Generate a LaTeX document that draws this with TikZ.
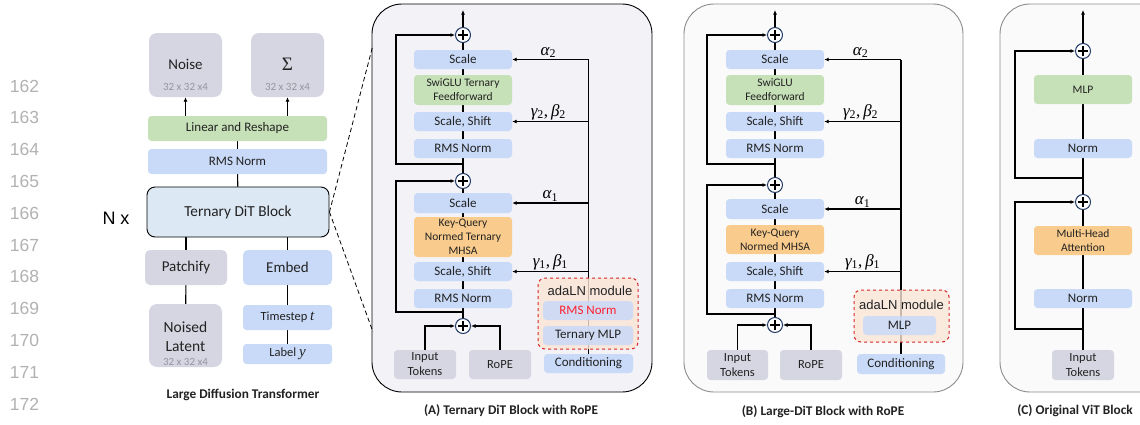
\documentclass[tikz,border=0pt]{standalone}
\usepackage{fontspec}
\setmainfont{Carlito}
\newfontfamily\arialfam{Liberation Sans}
\newfontfamily\mserif{Liberation Serif}
\usetikzlibrary{arrows.meta}

\definecolor{cblue}{RGB}{201,218,248}
\definecolor{cgreen}{RGB}{198,224,183}
\definecolor{corange}{RGB}{249,203,140}
\definecolor{cgrey}{RGB}{214,214,226}
\definecolor{cdit}{RGB}{221,232,245}
\definecolor{ctext}{RGB}{34,34,34}
\definecolor{cdim}{RGB}{150,150,160}
\definecolor{cnum}{RGB}{178,178,178}
\definecolor{cnavy}{RGB}{31,56,100}
\definecolor{cpanelA}{RGB}{242,242,247}
\definecolor{cpanelB}{RGB}{250,250,250}
\definecolor{cpanelline}{RGB}{140,140,140}
\definecolor{cadafill}{RGB}{251,229,214}
\definecolor{cadaline}{RGB}{214,40,40}
\definecolor{cred}{RGB}{255,32,48}

\pgfdeclarelayer{panel}
\pgfdeclarelayer{lines}
\pgfsetlayers{panel,lines,main}

% box from corner (x1,y1) to corner (x2,y2), y measured downwards
\newcommand\mybox[7]{\node[#1, minimum width={#5-#3}, minimum height={#6-#4}] (#2) at ({(#3+#5)/2},{(#4+#6)/2}) {#7};}
% italic serif symbol with an upright subscript
\newcommand\gsym[2]{{\itshape #1}\textsubscript{#2}}
\newcommand\ivar[1]{{\mserif\itshape #1}}

\begin{document}
\begin{tikzpicture}[x=1pt,y=-1pt,
  bx/.style={rounded corners=3.5pt, inner sep=1pt, align=center, text=ctext, font=\fontsize{13}{15}\selectfont},
  blu/.style={bx, fill=cblue},
  grn/.style={bx, fill=cgreen},
  org/.style={bx, fill=corange},
  gry/.style={bx, fill=cgrey},
  two/.style={font=\fontsize{11.5}{14}\selectfont},
  big/.style={font=\fontsize{15}{19}\selectfont},
  pc/.style={circle, draw=cnavy, fill=white, line width=1pt, minimum size=15pt, inner sep=0pt,
    path picture={\draw[black, line width=1.2pt]
      (path picture bounding box.center) ++(-5pt,0pt) -- ++(10pt,0pt)
      (path picture bounding box.center) ++(0pt,-5pt) -- ++(0pt,10pt);}},
  arr/.style={-{Latex[length=4.5pt,width=4pt]}},
  ln/.style={line width=1.1pt, draw=black},
  mth/.style={font=\mserif\fontsize{17}{18}\selectfont, inner sep=1pt, text=black},
  captxt/.style={font=\bfseries\fontsize{13.3}{15}\selectfont, text=ctext},
  dimtxt/.style={font=\fontsize{11}{12}\selectfont, text=cdim, inner sep=0pt},
  lnum/.style={font=\arialfam\fontsize{17.5}{18}\selectfont, text=cnum},
  panelbox/.style={rounded corners=30pt, line width=0.9pt},
  ada/.style={rounded corners=7pt, draw=cadaline, fill=cadafill, fill opacity=0.8, dashed, line width=1pt},
  adain/.style={fill opacity=0.85, text opacity=1},
]
\useasboundingbox (0,0) rectangle (1140,424);
\begin{pgfonlayer}{panel}
  \fill[white] (0,0) rectangle (1140,424);
\end{pgfonlayer}

% ---------------- line numbers ----------------
\foreach \k [count=\i from 0] in {162,...,172}
  \node[lnum] (num\k) at (24.5,{86+31.8*\i}) {\k};

% ---------------- large diffusion transformer ----------------
\node[font=\arialfam\fontsize{18}{20}\selectfont] (nx) at (116,218) {N x};

\mybox{gry, rounded corners=8pt}{noise}{149}{33}{222}{97}{}
\node[big, text=ctext] (noiseT) at (185.5,64) {Noise};
\node[dimtxt] (noiseS) at (185.5,87) {32 x 32 x4};
\mybox{gry, rounded corners=8pt}{sigma}{251}{33}{324}{97}{}
\node[font=\mserif\fontsize{19}{20}\selectfont, text=ctext] (sigmaT) at (287.5,64) {Σ};
\node[dimtxt] (sigmaS) at (287.5,87) {32 x 32 x4};

\mybox{grn}{lin}{148}{116}{327}{141}{Linear and Reshape}
\mybox{blu}{rmsL}{148}{149}{327}{174}{RMS Norm}
\mybox{bx, fill=cdit, draw=black, line width=0.9pt, rounded corners=8pt, font=\fontsize{15.3}{17}\selectfont}{dit}{147}{187}{329}{237}{Ternary DiT Block}
\mybox{gry, big, rounded corners=5pt}{patch}{145}{250}{227}{285}{Patchify}
\mybox{blu, big, rounded corners=5pt}{embed}{243}{250}{332}{285}{Embed}
\mybox{gry, rounded corners=8pt}{nl}{149}{304}{222}{367}{}
\node[big, text=ctext, align=center, font=\fontsize{15.5}{19}\selectfont] (nlT) at (185.5,336.5) {Noised\\Latent};
\node[dimtxt] (nlS) at (185.5,362) {32 x 32 x4};
\mybox{blu, font=\fontsize{12.5}{14}\selectfont}{ts}{243}{305}{332}{330}{Timestep {\fontsize{15}{15}\selectfont\ivar{t}}}
\mybox{blu, font=\fontsize{12.5}{14}\selectfont}{lab}{243}{344}{332}{364}{Label {\fontsize{15}{15}\selectfont\ivar{y}}}
\node[captxt] (capL) at (243,395) {Large Diffusion Transformer};

\begin{pgfonlayer}{lines}
  \draw[ln,arr] (noise.south |- lin.north) -- (noise.south);
  \draw[ln,arr] (sigma.south |- lin.north) -- (sigma.south);
  \draw[ln] (lin) -- (rmsL);
  \draw[ln] (rmsL) -- (dit);
  \draw[ln] (patch.north |- dit.south) -- (patch);
  \draw[ln] (embed.north |- dit.south) -- (embed);
  \draw[ln] (patch) -- (nl);
  \draw[ln] (embed) -- (ts);
  \draw[ln] (ts) -- (lab);
  \coordinate (zoomTop) at (373,45);
  \coordinate (zoomBot) at (373,332);
  \draw[line width=0.8pt, dash pattern=on 4.5pt off 3pt] (dit.east) -- (zoomTop);
  \draw[line width=0.8pt, dash pattern=on 4.5pt off 3pt] (dit.east) -- (zoomBot);
\end{pgfonlayer}

% ---------------- (A) ternary DiT block ----------------
\begin{pgfonlayer}{panel}
  \draw[panelbox, draw=black, fill=cpanelA] (372,4) rectangle (652,392);
\end{pgfonlayer}
\coordinate (A-out) at (463,10);
\node[pc] (A-p1) at (463,35) {};
\mybox{blu}{A-sc2}{414}{50}{512}{69}{Scale}
\mybox{grn, two}{A-ff}{414}{75}{512}{105}{SwiGLU Ternary\\Feedforward}
\mybox{blu}{A-ss2}{414}{112}{512}{131}{Scale, Shift}
\mybox{blu}{A-rn2}{414}{139}{512}{158}{RMS Norm}
\node[pc] (A-p2) at (463,181) {};
\mybox{blu}{A-sc1}{414}{193}{512}{213}{Scale}
\mybox{org, two}{A-att}{414}{217}{512}{257}{Key-Query\\Normed Ternary\\MHSA}
\mybox{blu}{A-ss1}{414}{262}{512}{281}{Scale, Shift}
\mybox{blu}{A-rn1}{414}{289}{512}{308}{RMS Norm}
\node[pc] (A-p3) at (463,326) {};
\mybox{gry, font=\fontsize{12.5}{15}\selectfont}{A-in}{394}{350}{456}{379}{Input\\Tokens}
\mybox{gry, font=\fontsize{12.5}{15}\selectfont}{A-rope}{469}{350}{531}{379}{RoPE}
\mybox{blu}{A-cond}{544}{354}{633}{373}{Conditioning}
\coordinate (A-r2) at (A-cond |- A-sc2);
\begin{pgfonlayer}{lines}
  \draw[ln] (A-cond) -- (A-r2);
\end{pgfonlayer}
\mybox{ada}{A-ada}{538}{278}{638}{349}{}
\node[font=\arialfam\fontsize{13}{14}\selectfont, text=ctext] (A-adaT) at (590,291) {adaLN module};
\mybox{blu, adain, text=cred}{A-adrn}{543}{301}{633}{320}{RMS Norm}
\mybox{blu, adain}{A-mlp}{543}{326}{633}{345}{Ternary MLP}
\node[captxt] (capA) at (511,411) {(A) Ternary DiT Block with RoPE};

\begin{pgfonlayer}{lines}
  \draw[ln,arr] (A-p1) -- (A-out);
  \draw[ln] (A-p3) -- (A-rn1);
  \draw[ln] (A-rn1) -- (A-ss1);
  \draw[ln] (A-ss1) -- (A-att);
  \draw[ln] (A-att) -- (A-sc1);
  \draw[ln] (A-sc1) -- (A-p2);
  \draw[ln] (A-p2) -- (A-rn2);
  \draw[ln] (A-rn2) -- (A-ss2);
  \draw[ln] (A-ss2) -- (A-ff);
  \draw[ln] (A-ff) -- (A-sc2);
  \draw[ln] (A-sc2) -- (A-p1);
  \coordinate (A-j2) at (463,164);
  \coordinate (A-j1) at (463,312);
  \draw[ln,arr] (A-j2) -- ++(-67,0) |- (A-p1);
  \draw[ln,arr] (A-j1) -- ++(-67,0) |- (A-p2);
  \draw[ln,arr] (A-in.north) |- (A-p3);
  \draw[ln,arr] (A-rope.north) |- (A-p3);
  \draw[ln,arr] (A-r2) -- node[mth, above, xshift=-2pt] {\gsym{α}{2}} (A-sc2.east);
  \draw[ln,arr] (A-r2 |- A-ss2) -- node[mth, above, xshift=-2pt] {\gsym{γ}{2},\,\gsym{β}{2}} (A-ss2.east);
  \draw[ln,arr] (A-r2 |- A-sc1) -- node[mth, above] {\gsym{α}{1}} (A-sc1.east);
  \draw[ln,arr] (A-r2 |- A-ss1) -- node[mth, above] {\gsym{γ}{1},\,\gsym{β}{1}} (A-ss1.east);
\end{pgfonlayer}

% ---------------- (B) large-DiT block ----------------
\begin{pgfonlayer}{panel}
  \draw[panelbox, draw=cpanelline, fill=cpanelB] (684,4) rectangle (963,392);
\end{pgfonlayer}
\coordinate (B-out) at (775,10);
\node[pc] (B-p1) at (775,35) {};
\mybox{blu}{B-sc2}{726}{50}{824}{69}{Scale}
\mybox{grn, two}{B-ff}{726}{75}{824}{105}{SwiGLU\\Feedforward}
\mybox{blu}{B-ss2}{726}{112}{824}{131}{Scale, Shift}
\mybox{blu}{B-rn2}{726}{139}{824}{158}{RMS Norm}
\node[pc] (B-p2) at (775,185) {};
\mybox{blu}{B-sc1}{726}{199}{824}{219}{Scale}
\mybox{org, two}{B-att}{726}{225}{824}{254}{Key-Query\\Normed MHSA}
\mybox{blu}{B-ss1}{726}{262}{824}{281}{Scale, Shift}
\mybox{blu}{B-rn1}{726}{289}{824}{308}{RMS Norm}
\node[pc] (B-p3) at (775,325) {};
\mybox{gry, font=\fontsize{12.5}{15}\selectfont}{B-in}{707}{350}{768}{380}{Input\\Tokens}
\mybox{gry, font=\fontsize{12.5}{15}\selectfont}{B-rope}{780}{350}{842}{380}{RoPE}
\mybox{blu}{B-cond}{857}{354}{945}{374}{Conditioning}
\coordinate (B-r2) at (B-cond |- B-sc2);
\begin{pgfonlayer}{lines}
  \draw[ln] (B-cond) -- (B-r2);
\end{pgfonlayer}
\mybox{ada}{B-ada}{854}{290}{949}{342}{}
\node[font=\arialfam\fontsize{13}{14}\selectfont, text=ctext] (B-adaT) at (901.5,305) {adaLN module};
\mybox{blu, adain}{B-mlp}{863}{316}{936}{335}{MLP}
\node[captxt] (capB) at (823,412) {(B) Large-DiT Block with RoPE};

\begin{pgfonlayer}{lines}
  \draw[ln,arr] (B-p1) -- (B-out);
  \draw[ln] (B-p3) -- (B-rn1);
  \draw[ln] (B-rn1) -- (B-ss1);
  \draw[ln] (B-ss1) -- (B-att);
  \draw[ln] (B-att) -- (B-sc1);
  \draw[ln] (B-sc1) -- (B-p2);
  \draw[ln] (B-p2) -- (B-rn2);
  \draw[ln] (B-rn2) -- (B-ss2);
  \draw[ln] (B-ss2) -- (B-ff);
  \draw[ln] (B-ff) -- (B-sc2);
  \draw[ln] (B-sc2) -- (B-p1);
  \coordinate (B-j2) at (775,164);
  \coordinate (B-j1) at (775,314);
  \draw[ln,arr] (B-j2) -- ++(-68,0) |- (B-p1);
  \draw[ln,arr] (B-j1) -- ++(-68,0) |- (B-p2);
  \draw[ln,arr] (B-in.north) |- (B-p3);
  \draw[ln,arr] (B-rope.north) |- (B-p3);
  \draw[ln,arr] (B-r2) -- node[mth, above, xshift=-2pt] {\gsym{α}{2}} (B-sc2.east);
  \draw[ln,arr] (B-r2 |- B-ss2) -- node[mth, above, xshift=-2pt] {\gsym{γ}{2},\,\gsym{β}{2}} (B-ss2.east);
  \draw[ln,arr] (B-r2 |- B-sc1) -- node[mth, above] {\gsym{α}{1}} (B-sc1.east);
  \draw[ln,arr] (B-r2 |- B-ss1) -- node[mth, above] {\gsym{γ}{1},\,\gsym{β}{1}} (B-ss1.east);
\end{pgfonlayer}

% ---------------- (C) original ViT block ----------------
\begin{pgfonlayer}{panel}
  \draw[panelbox, draw=cpanelline, fill=cpanelB] (1000,4) rectangle (1190,392);
\end{pgfonlayer}
\coordinate (C-out) at (1083,10);
\node[pc] (C-p1) at (1083,51) {};
\mybox{grn, two}{C-mlp}{1034}{75}{1132}{104}{MLP}
\mybox{blu}{C-n2}{1034}{139}{1132}{158}{Norm}
\node[pc] (C-p2) at (1083,202) {};
\mybox{org, two}{C-att}{1034}{226}{1132}{255}{Multi-Head\\Attention}
\mybox{blu}{C-n1}{1034}{289}{1132}{308}{Norm}
\mybox{gry, font=\fontsize{12.5}{15}\selectfont}{C-in}{1052}{350}{1114}{380}{Input\\Tokens}
\node[captxt] (capC) at (1075,411) {(C) Original ViT Block};

\begin{pgfonlayer}{lines}
  \draw[ln,arr] (C-p1) -- (C-out);
  \draw[ln] (C-in) -- (C-n1);
  \draw[ln] (C-n1) -- (C-att);
  \draw[ln] (C-att) -- (C-p2);
  \draw[ln] (C-p2) -- (C-n2);
  \draw[ln] (C-n2) -- (C-mlp);
  \draw[ln] (C-mlp) -- (C-p1);
  \coordinate (C-j2) at (1083,178);
  \coordinate (C-j1) at (1083,329);
  \draw[ln,arr] (C-j2) -- ++(-68,0) |- (C-p1);
  \draw[ln,arr] (C-j1) -- ++(-68,0) |- (C-p2);
\end{pgfonlayer}
\end{tikzpicture}
\end{document}
